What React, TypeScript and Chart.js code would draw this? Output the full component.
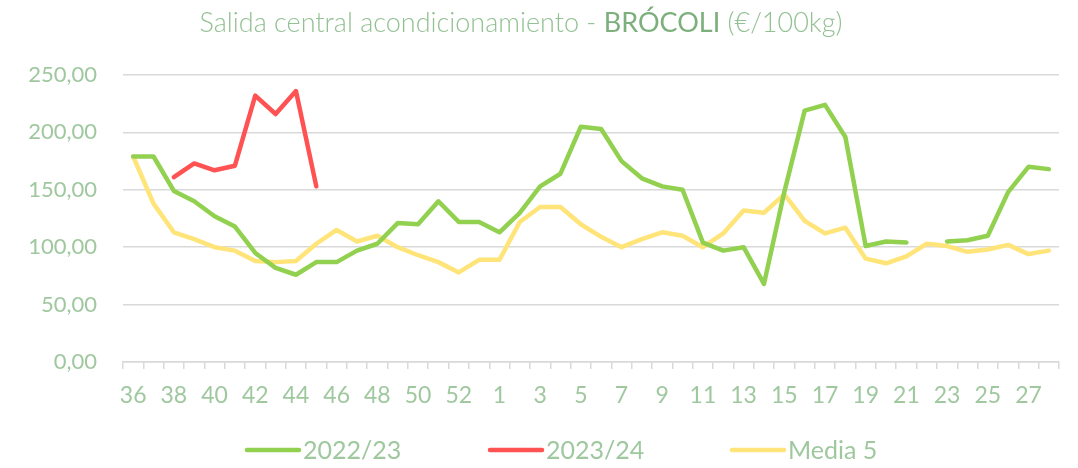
import React, { useEffect, useRef } from "react";
import { Chart, registerables } from "chart.js";

Chart.register(...registerables);

const weeks: string[] = [
  "36","37","38","39","40","41","42","43","44","45","46","47","48","49","50","51","52","53",
  "1","2","3","4","5","6","7","8","9","10","11","12","13","14","15","16","17","18","19","20",
  "21","22","23","24","25","26","27","28",
];

const season2223: (number | null)[] = [
  179, 179, 149, 140, 127, 118, 95, 82, 76, 87, 87, 97, 103, 121, 120, 140, 122, 122,
  113, 130, 153, 164, 205, 203, 175, 160, 153, 150, 104, 97, 100, 68, 148, 219, 224, 196,
  101, 105, 104, null, 105, 106, 110, 148, 170, 168,
];

const season2324: (number | null)[] = [
  null, null, 161, 173, 167, 171, 232, 216, 236, 153, null, null, null, null, null, null, null, null,
  null, null, null, null, null, null, null, null, null, null, null, null, null, null, null, null, null, null,
  null, null, null, null, null, null, null, null, null, null,
];

const media5: number[] = [
  179, 138, 113, 107, 100, 97, 88, 87, 88, 103, 115, 105, 110, 100, 93, 87, 78, 89,
  89, 122, 135, 135, 120, 109, 100, 107, 113, 110, 100, 112, 132, 130, 146, 123, 112, 117,
  90, 86, 92, 103, 101, 96, 98, 102, 94, 97,
];

const seriesLabels = ["2022/23", "2023/24", "Media 5"];
const seriesColors = ["#92d050", "#ff5252", "#ffe47a"];

const LABEL_COLOR = "#9fc89f";
const FONT = "Lato, 'Open Sans', sans-serif";

const titlePlugin = {
  id: "customTitle",
  afterDraw(chart: any) {
    const ctx = chart.ctx as CanvasRenderingContext2D;
    const parts = [
      { t: "Salida central acondicionamiento - ", w: 300, c: "#93c193" },
      { t: "BRÓCOLI", w: 400, c: "#7daf7d" },
      { t: " (€/100kg)", w: 300, c: "#93c193" },
    ];
    ctx.save();
    ctx.textBaseline = "middle";
    let total = 0;
    const widths: number[] = [];
    for (const p of parts) {
      ctx.font = `${p.w} 27px ${FONT}`;
      const w = ctx.measureText(p.t).width;
      widths.push(w);
      total += w;
    }
    let x = 521 - total / 2;
    parts.forEach((p, i) => {
      ctx.font = `${p.w} 27px ${FONT}`;
      ctx.fillStyle = p.c;
      ctx.textAlign = "left";
      ctx.fillText(p.t, x, 23);
      x += widths[i];
    });
    ctx.restore();
  },
};

const legendPlugin = {
  id: "customLegend",
  afterDraw(chart: any) {
    const ctx = chart.ctx as CanvasRenderingContext2D;
    const starts = [245, 488, 730];
    const y = 450;
    ctx.save();
    chart.data.datasets.forEach((ds: any, i: number) => {
      const x0 = starts[i];
      ctx.strokeStyle = ds.borderColor;
      ctx.lineWidth = 4.5;
      ctx.lineCap = "round";
      ctx.beginPath();
      ctx.moveTo(x0 + 2, y);
      ctx.lineTo(x0 + 54, y);
      ctx.stroke();
      ctx.font = `400 25px ${FONT}`;
      ctx.fillStyle = LABEL_COLOR;
      ctx.textAlign = "left";
      ctx.textBaseline = "middle";
      ctx.fillText(ds.label, x0 + 58, y + 1);
    });
    ctx.restore();
  },
};

export default function App() {
  const ref = useRef<HTMLCanvasElement | null>(null);

  useEffect(() => {
    document.body.style.margin = "0";
    const canvas = ref.current;
    if (!canvas) return;
    const data = [season2223, season2324, media5];
    const chart = new Chart(canvas, {
      type: "line",
      data: {
        labels: weeks,
        datasets: data.map((d, i) => ({
          label: seriesLabels[i],
          data: d,
          borderColor: seriesColors[i],
          backgroundColor: seriesColors[i],
          borderWidth: 4.5,
          pointRadius: 0,
          tension: 0,
          spanGaps: false,
          borderCapStyle: "round" as const,
          borderJoinStyle: "round" as const,
          order: i === 2 ? 3 : i === 0 ? 2 : 1,
        })),
      },
      options: {
        animation: false,
        responsive: false,
        maintainAspectRatio: false,
        layout: { padding: { top: 75, right: 19, left: 0, bottom: 0 } },
        plugins: {
          legend: { display: false },
          title: { display: false },
          tooltip: { enabled: false },
        },
        scales: {
          x: {
            type: "category",
            offset: true,
            afterFit(scale: any) {
              scale.height = 106;
            },
            grid: {
              offset: true,
              drawOnChartArea: false,
              drawTicks: true,
              tickLength: 7,
              color: "#d9d9d9",
              lineWidth: 1.5,
            },
            border: { display: true, color: "#d9d9d9", width: 1.5 },
            ticks: {
              autoSkip: false,
              maxRotation: 0,
              minRotation: 0,
              padding: 13,
              color: LABEL_COLOR,
              font: { family: FONT, size: 23 },
              callback: (_v: any, idx: number) => (idx % 2 === 0 ? weeks[idx] : ""),
            },
          },
          y: {
            min: 0,
            max: 250,
            afterFit(scale: any) {
              scale.width = 123;
            },
            grid: {
              drawTicks: false,
              color: "#d9d9d9",
              lineWidth: 1.5,
            },
            border: { display: false },
            ticks: {
              stepSize: 50,
              padding: 26,
              color: LABEL_COLOR,
              font: { family: FONT, size: 22 },
              callback: (v: any) => Number(v).toFixed(2).replace(".", ","),
            },
          },
        },
      },
      plugins: [titlePlugin, legendPlugin],
    });
    return () => chart.destroy();
  }, []);

  return (
    <div style={{ width: 1078, height: 468 }}>
      <canvas ref={ref} width={1078} height={468} style={{ display: "block" }} />
    </div>
  );
}
